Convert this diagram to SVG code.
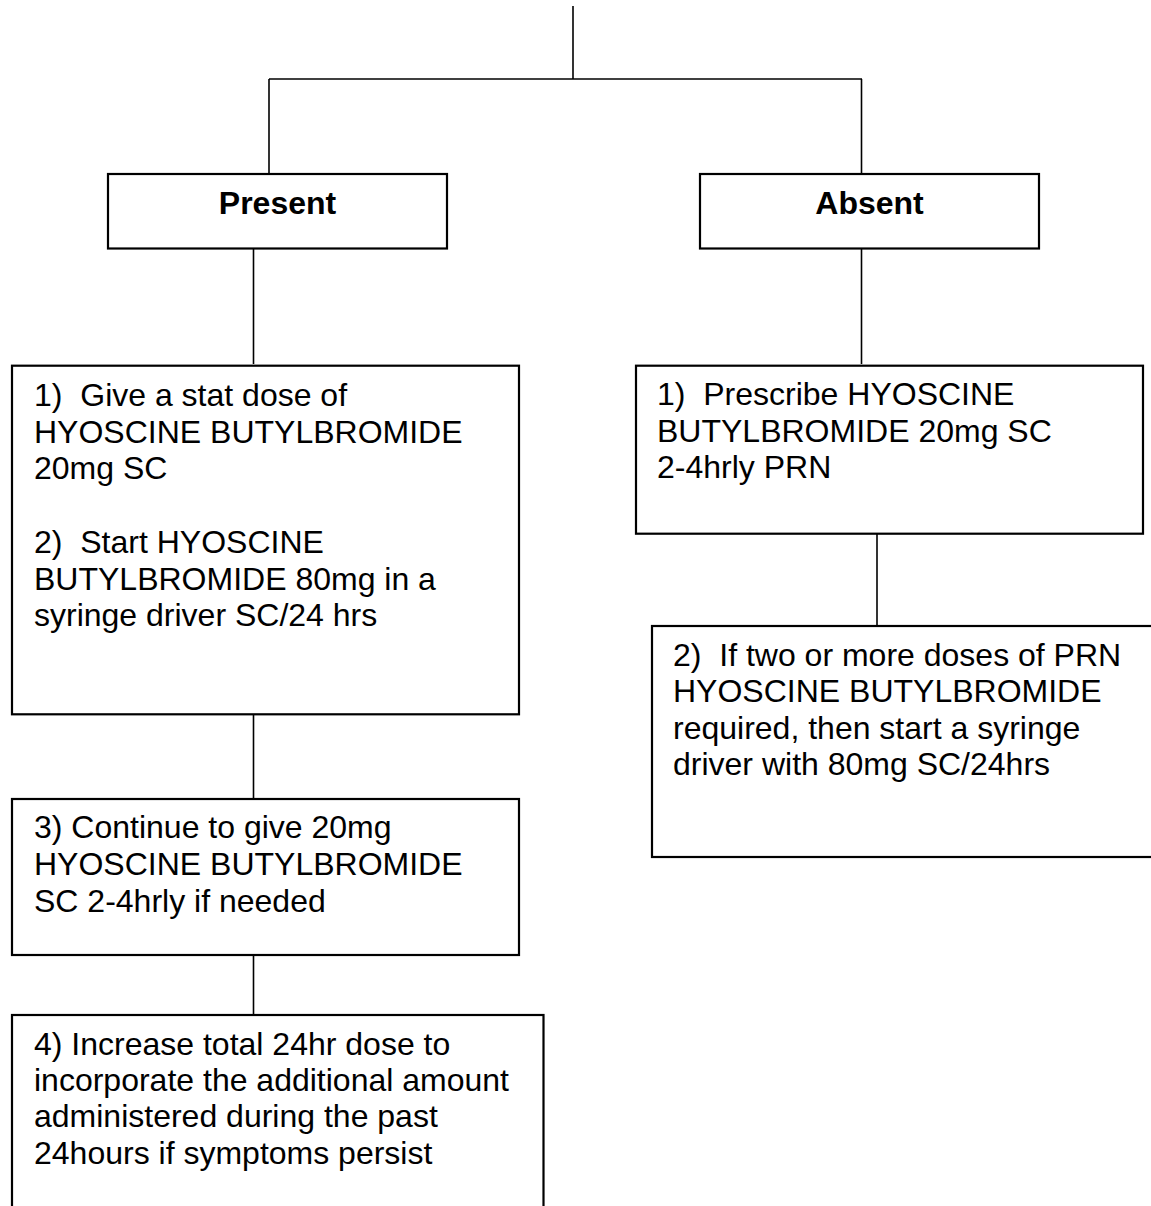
<svg xmlns="http://www.w3.org/2000/svg" width="1151" height="1206" viewBox="0 0 1151 1206" xml:space="preserve">
<style>
.box{fill:#fff;stroke:#000;stroke-width:2.2}
.con{fill:none;stroke:#000;stroke-width:1.6}
text{font-family:"Liberation Sans",Arial,sans-serif;font-size:32px;fill:#000;white-space:pre}
.b{font-weight:bold;text-anchor:middle}
</style>
<rect width="1151" height="1206" fill="#fff"/>
<g id="connectors">
<path class="con" d="M573,6 V79"/>
<path class="con" d="M269,79 H862" stroke-width="2.2"/>
<path class="con" d="M269,79 V174"/>
<path class="con" d="M861.5,79 V174"/>
<path class="con" d="M253.5,247 V364"/>
<path class="con" d="M861.5,247 V364"/>
<path class="con" d="M877,532 V627"/>
<path class="con" d="M253.5,707 V800"/>
<path class="con" d="M253.5,947 V1016"/>
</g>
<g id="present">
<rect class="box" x="108" y="174" width="339" height="74.5"/>
<text class="b" x="277.5" y="214">Present</text>
</g>
<g id="absent">
<rect class="box" x="700" y="174" width="339" height="74.5"/>
<text class="b" x="869.5" y="214">Absent</text>
</g>
<g id="step1-2">
<rect class="box" x="12" y="365.7" width="507" height="348.6"/>
<text x="34" y="406">1)  Give a stat dose of</text>
<text x="34" y="443">HYOSCINE BUTYLBROMIDE</text>
<text x="34" y="479">20mg SC</text>
<text x="34" y="553">2)  Start HYOSCINE</text>
<text x="34" y="590">BUTYLBROMIDE 80mg in a</text>
<text x="34" y="626">syringe driver SC/24 hrs</text>
</g>
<g id="step3">
<rect class="box" x="12" y="799" width="507" height="156"/>
<text x="34" y="838">3) Continue to give 20mg</text>
<text x="34" y="875">HYOSCINE BUTYLBROMIDE</text>
<text x="34" y="911.5">SC 2-4hrly if needed</text>
</g>
<g id="step4">
<rect class="box" x="12" y="1015" width="531.5" height="220"/>
<text x="34" y="1055">4) Increase total 24hr dose to</text>
<text x="34" y="1091">incorporate the additional amount</text>
<text x="34" y="1127">administered during the past</text>
<text x="34" y="1164">24hours if symptoms persist</text>
</g>
<g id="absent-step1">
<rect class="box" x="636" y="365.7" width="507" height="168"/>
<text x="657" y="405">1)  Prescribe HYOSCINE</text>
<text x="657" y="442">BUTYLBROMIDE 20mg SC</text>
<text x="657" y="478">2-4hrly PRN</text>
</g>
<g id="absent-step2">
<rect class="box" x="652" y="626" width="520" height="231"/>
<text x="673" y="666">2)  If two or more doses of PRN</text>
<text x="673" y="702">HYOSCINE BUTYLBROMIDE</text>
<text x="673" y="739">required, then start a syringe</text>
<text x="673" y="775">driver with 80mg SC/24hrs</text>
</g>
</svg>
